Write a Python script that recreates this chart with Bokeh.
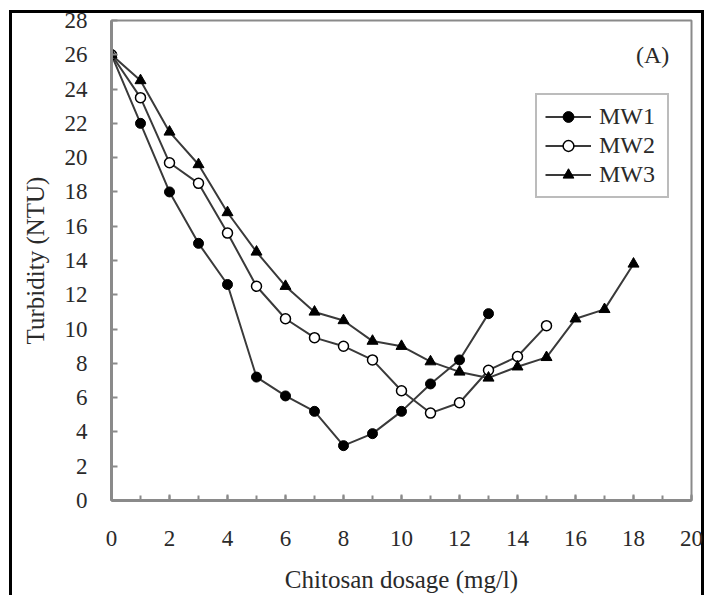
from bokeh.plotting import figure
from bokeh.models import FixedTicker, Legend, LegendItem, Label, Range1d
from bokeh.embed import file_html
from bokeh.resources import INLINE

# Data
dose_mw1 = list(range(0, 14))
turb_mw1 = [26.0, 22.0, 18.0, 15.0, 12.6, 7.2, 6.1, 5.2, 3.2, 3.9, 5.2, 6.8, 8.2, 10.9]
dose_mw2 = list(range(0, 16))
turb_mw2 = [26.0, 23.5, 19.7, 18.5, 15.6, 12.5, 10.6, 9.5, 9.0, 8.2, 6.4, 5.1, 5.7, 7.6, 8.4, 10.2]
dose_mw3 = list(range(0, 19))
turb_mw3 = [26.0, 24.5, 21.5, 19.6, 16.8, 14.5, 12.5, 11.0, 10.5, 9.3, 9.0, 8.1, 7.5, 7.15, 7.8, 8.35, 10.6, 11.15, 13.8]
series_names = ["MW1", "MW2", "MW3"]
x_ticks = list(range(0, 21, 2))
x_minor = list(range(0, 21))
y_ticks = list(range(0, 29, 2))

FONT = "Liberation Serif"
TXT = "#2a2a2a"
AX = "#8a8a8a"

p = figure(width=704, height=593, output_backend="svg", toolbar_location=None,
           x_range=Range1d(0, 20), y_range=Range1d(0, 28),
           min_border_left=111, min_border_right=13, min_border_top=20, min_border_bottom=93)
p.frame_width = 580
p.frame_height = 480

p.grid.visible = False
p.outline_line_color = AX
p.outline_line_width = 2
p.background_fill_color = "white"
p.border_fill_alpha = 0
# outer black frame of the figure image (left, top, right; open at the bottom)
p.styles = {
    "background-color": "white",
    "box-shadow": ("inset 9px 0 0 0 white, inset 0 10px 0 0 white, "
                   "inset 12px 0 0 0 black, inset 0 13px 0 0 black, inset -3px 0 0 0 black"),
}

p.xaxis.ticker = FixedTicker(ticks=x_ticks, minor_ticks=x_minor)
p.yaxis.ticker = FixedTicker(ticks=y_ticks, minor_ticks=[])
for ax in (p.xaxis[0], p.yaxis[0]):
    ax.axis_line_color = AX
    ax.axis_line_width = 3
    ax.major_tick_line_color = AX
    ax.major_tick_line_width = 2
    ax.major_tick_in = 6
    ax.major_tick_out = 0
    ax.minor_tick_line_color = AX
    ax.minor_tick_line_width = 2
    ax.minor_tick_in = 5
    ax.minor_tick_out = 0
    ax.major_label_text_font = FONT
    ax.major_label_text_font_size = "23px"
    ax.major_label_text_color = TXT
    ax.axis_label_text_font = FONT
    ax.axis_label_text_font_size = "25px"
    ax.axis_label_text_font_style = "normal"
    ax.axis_label_text_color = TXT

p.xaxis.axis_label = "Chitosan dosage (mg/l)"
p.yaxis.axis_label = "Turbidity (NTU)"
p.xaxis.major_label_standoff = 30
p.xaxis.axis_label_standoff = 17
p.yaxis.major_label_standoff = 24
p.yaxis.axis_label_standoff = 13

LINE = "#3a3a3a"
l1 = p.line(dose_mw1, turb_mw1, line_color=LINE, line_width=2)
m1 = p.scatter(dose_mw1, turb_mw1, marker="circle", size=10, fill_color="black", line_color="black")
l2 = p.line(dose_mw2, turb_mw2, line_color=LINE, line_width=2)
m2 = p.scatter(dose_mw2, turb_mw2, marker="circle", size=10, fill_color="white", line_color="black", line_width=1.5)
l3 = p.line(dose_mw3, turb_mw3, line_color=LINE, line_width=2)
m3 = p.scatter(dose_mw3, turb_mw3, marker="triangle", size=11, fill_color="black", line_color="black")

legend = Legend(items=[LegendItem(label=series_names[0], renderers=[l1, m1]),
                       LegendItem(label=series_names[1], renderers=[l2, m2]),
                       LegendItem(label=series_names[2], renderers=[l3, m3])],
                location=(424, 302))
legend.label_text_font = FONT
legend.label_text_font_size = "24px"
legend.label_text_color = TXT
legend.glyph_width = 46
legend.glyph_height = 27
legend.label_height = 27
legend.label_width = 60
legend.label_standoff = 8
legend.spacing = 2
legend.padding = 8
legend.margin = 0
legend.border_line_color = "#7a7a7a"
legend.border_line_width = 2
legend.background_fill_color = "white"
legend.background_fill_alpha = 1
p.add_layout(legend)

p.add_layout(Label(x=18.66, y=25.96, text="(A)", text_font=FONT, text_font_size="24px",
                   text_color=TXT, text_align="center", text_baseline="middle"))

open("out.html", "w").write(file_html(p, INLINE))
